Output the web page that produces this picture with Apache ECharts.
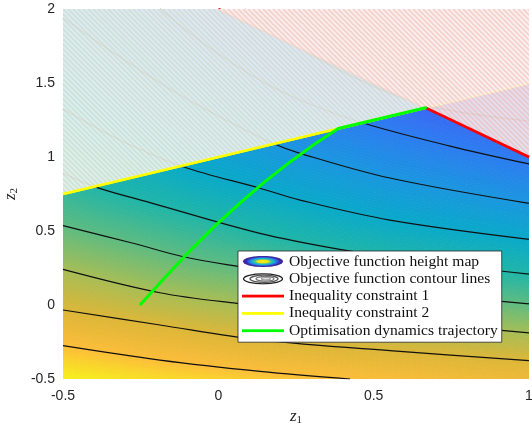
<!DOCTYPE html>
<html>
<head>
<meta charset="utf-8">
<script src="https://cdn.jsdelivr.net/npm/echarts@6/dist/echarts.min.js"></script>
<style>
html,body{margin:0;padding:0;background:#fff;}
#c{width:532px;height:430px;}
</style>
</head>
<body>
<div id="c"></div>
<script>
// ---------- data ----------
const xTicks = [-0.5, 0, 0.5, 1];
const yTicks = [-0.5, 0, 0.5, 1, 1.5, 2];

// objective-function contour lines (z1, z2), from the lowest-left to the upper-right
const contourA = [[-0.5,-0.275],[-0.188,-0.372],[0.134,-0.448],[0.424,-0.5]];
const contourB = [[-0.5,-0.034],[-0.188,-0.135],[0.134,-0.236],[0.585,-0.314],[1.0,-0.376]];
const contourC = [[-0.5,0.241],[-0.188,0.083],[0.059,0.011],[0.52,-0.095],[1.0,-0.189]];
const contourD = [[-0.5,0.536],[-0.274,0.417],[-0.113,0.326],[0.07,0.259],[0.52,0.112],[1.0,0.007]];
const contourE = [[-0.5,0.89],[-0.392,0.795],[-0.22,0.692],[0.134,0.484],[0.401,0.372],[0.649,0.294],[1.0,0.209]];
const contourF = [[-0.5,1.324],[-0.317,1.115],[-0.113,0.934],[0.134,0.789],[0.263,0.709],[0.552,0.574],[1.0,0.444]];
const contourG = [[-0.5,1.939],[-0.317,1.676],[-0.123,1.419],[0.037,1.236],[0.173,1.095],[0.263,1.025],[0.552,0.858],[1.0,0.687]];
const contourH = [[-0.188,2.0],[-0.027,1.736],[0.134,1.52],[0.263,1.385],[0.466,1.23],[0.746,1.074],[1.0,0.953]];
const contourI = [[0.086,2.0],[0.263,1.736],[0.456,1.52],[0.672,1.345],[1.0,1.243]];

// inequality constraints (z1 + z2 <= 2 and z2 <= z1/2 + 1)
const constraint1 = [[0, 2], [0.667, 1.333], [1, 1]];
const constraint2 = [[-0.5, 0.75], [0.667, 1.333], [1, 1.5]];

// optimisation dynamics trajectory
const trajectory = [[-0.25,0.005],[-0.169,0.193],[-0.089,0.371],[-0.009,0.538],[0.072,0.693],
  [0.152,0.837],[0.233,0.970],[0.313,1.092],[0.386,1.193],[0.667,1.333]];

const names = ['Objective function height map','Objective function contour lines',
  'Inequality constraint 1','Inequality constraint 2','Optimisation dynamics trajectory'];

// ---------- styles ----------
const contours = [contourA,contourB,contourC,contourD,contourE,contourF,contourG,contourH,contourI];
// colour at: far-below, corner, A..I, top, far-above
const levelColors = ['#f6f01c','#f6f01c','#fcbd38','#dcb637','#a6bd55','#5dbb80','#1fb5a8',
  '#09a9c9','#1a96df','#2c7df0','#3a66f5','#4050d8','#4050d8'];

const X_MIN = xTicks[0], X_MAX = xTicks[xTicks.length-1];
const Y_MIN = yTicks[0], Y_MAX = yTicks[yTicks.length-1];

function evalCurve(c, x) {
  const n = c.length;
  let i = 0;
  if (x <= c[0][0]) i = 0;
  else if (x >= c[n-1][0]) i = n - 2;
  else { while (i < n - 2 && x > c[i+1][0]) i++; }
  const x0 = c[i][0], y0 = c[i][1], x1 = c[i+1][0], y1 = c[i+1][1];
  return y0 + (y1 - y0) * (x - x0) / (x1 - x0);
}
const hexToRgb = h => [parseInt(h.slice(1,3),16), parseInt(h.slice(3,5),16), parseInt(h.slice(5,7),16)];
const mix = (a, b, t) => 'rgb(' + a.map((v,i) => Math.round(v + (b[i]-v)*t)).join(',') + ')';

function renderHeight(params, api) {
  const cs = params.coordSys;
  const nC = contours.length;
  const bounds = [];
  const first = x => { const a = evalCurve(contours[0], x), b = evalCurve(contours[1], x); return a - 0.9*(b - a); };
  const last = x => { const a = evalCurve(contours[nC-1], x), b = evalCurve(contours[nC-2], x); return a + (a - b); };
  bounds.push(x => first(x) - 5);
  bounds.push(first);
  contours.forEach(c => bounds.push(x => evalCurve(c, x)));
  bounds.push(last);
  bounds.push(x => last(x) + 5);
  const rgb = levelColors.map(hexToRgb);
  const N = 80;
  const xs = [];
  for (let k = 0; k <= N; k++) xs.push(X_MIN - 0.03 + (X_MAX - X_MIN + 0.06) * k / N);
  const children = [];
  for (let b = 0; b < bounds.length - 1; b++) {
    const lo = xs.map(x => bounds[b](x)), hi = xs.map(x => bounds[b+1](x));
    const S = (b === 0 || b === bounds.length - 2) ? 1 : 16;
    for (let s = 0; s < S; s++) {
      const f0 = s / S, f1 = (s + 1) / S;
      const pts = [];
      for (let k = 0; k < xs.length; k++) pts.push(api.coord([xs[k], lo[k] + (hi[k]-lo[k]) * f0]));
      for (let k = xs.length - 1; k >= 0; k--) pts.push(api.coord([xs[k], lo[k] + (hi[k]-lo[k]) * f1]));
      const col = mix(rgb[b], rgb[b+1], (f0 + f1) / 2);
      children.push({type:'polygon', shape:{points:pts}, style:{fill:col, stroke:col, lineWidth:0.8}});
    }
  }
  return {type:'group', children,
    clipPath:{type:'rect', shape:{x:cs.x, y:cs.y, width:cs.width, height:cs.height}}};
}

// hatching of the infeasible regions (area beyond each constraint line up to the top of the axes)
const region2 = constraint2.concat([[X_MAX, Y_MAX], [X_MIN, Y_MAX]]);
const region1 = constraint1.concat([[X_MAX, Y_MAX]]);

function makeHatch(poly, hatch) {
  return function (params, api) {
    const cs = params.coordSys;
    const pts = poly.map(p => api.coord(p));
    const lines = [];
    const step = 5, H = cs.height;
    for (let c = cs.x - H; c < cs.x + cs.width + 2; c += step) {
      lines.push({type:'line', shape:{x1:c, y1:cs.y, x2:c + H, y2:cs.y + H},
        style:{stroke:hatch, lineWidth:2.2, fill:null}});
    }
    return {type:'group', children:lines, clipPath:{type:'polygon', shape:{points:pts}}};
  };
}

// legend icons
const svgUrl = s => 'image://data:image/svg+xml;charset=utf-8,' + encodeURIComponent(s);
const iconHeight = svgUrl("<svg xmlns='http://www.w3.org/2000/svg' width='42' height='12' viewBox='0 0 42 12'>" +
  "<defs><radialGradient id='g' cx='50%' cy='50%' r='50%'>" +
  "<stop offset='0' stop-color='#f9f50e'/><stop offset='0.28' stop-color='#e8df1d'/>" +
  "<stop offset='0.42' stop-color='#3fbf9f'/><stop offset='0.56' stop-color='#12b2cf'/>" +
  "<stop offset='0.7' stop-color='#2f6ce8'/><stop offset='0.84' stop-color='#3b2ba8'/>" +
  "<stop offset='1' stop-color='#3a2796'/></radialGradient></defs>" +
  "<ellipse cx='21' cy='6' rx='20' ry='5.6' fill='url(#g)'/></svg>");
const iconContour = svgUrl("<svg xmlns='http://www.w3.org/2000/svg' width='42' height='12' viewBox='0 0 42 12'>" +
  "<g fill='none' stroke-width='1.3'>" +
  "<ellipse cx='21' cy='6' rx='19.5' ry='5' stroke='#222'/>" +
  "<ellipse cx='22' cy='6' rx='14' ry='3.6' stroke='#555'/>" +
  "<ellipse cx='23' cy='6' rx='9' ry='2.3' stroke='#777'/>" +
  "<ellipse cx='24' cy='6' rx='4.5' ry='1.1' stroke='#999'/></g></svg>");
const lineIcon = col => svgUrl("<svg xmlns='http://www.w3.org/2000/svg' width='42' height='12' viewBox='0 0 42 12'>" +
  "<rect x='0' y='4.6' width='42' height='2.8' fill='" + col + "'/></svg>");

const contourSeries = contours.map(c => ({
  name: names[1], type:'line', data:c, smooth:0.35, symbol:'none', showSymbol:false, silent:true, z:2,
  color:'#111', lineStyle:{color:'#111', width:1.2}
}));

const richName = {
  i:{fontFamily:'Liberation Serif', fontStyle:'italic', fontSize:17, color:'#262626', lineHeight:18},
  s:{fontFamily:'Liberation Serif', fontSize:11, color:'#262626', lineHeight:18, verticalAlign:'bottom'}
};

const chart = echarts.init(document.getElementById('c'));
chart.setOption({
  animation:false,
  grid:{left:63, top:9, right:3, bottom:51, containLabel:false, outerBoundsMode:'none'},
  xAxis:{type:'value', min:X_MIN, max:X_MAX, interval:0.5,
    axisLine:{show:false}, axisTick:{show:false}, splitLine:{show:false},
    axisLabel:{fontFamily:'Liberation Sans', fontSize:14, color:'#262626', margin:10},
    name:'{i|z}{s|1}', nameLocation:'middle', nameGap:25, nameTextStyle:{rich:richName}},
  yAxis:{type:'value', min:Y_MIN, max:Y_MAX, interval:0.5,
    axisLine:{show:false}, axisTick:{show:false}, splitLine:{show:false},
    axisLabel:{fontFamily:'Liberation Sans', fontSize:14, color:'#262626', margin:8},
    name:'{i|z}{s|2}', nameLocation:'middle', nameGap:40, nameTextStyle:{rich:richName}},
  legend:{
    orient:'vertical', left:238, top:251, z:20, selectedMode:false,
    backgroundColor:'#fff', borderColor:'#262626', borderWidth:0.8, borderRadius:0,
    padding:[2,4,3,4], itemGap:0.3, itemWidth:42, itemHeight:12,
    textStyle:{fontFamily:'Liberation Serif', fontSize:15.6, color:'#111', lineHeight:17},
    data:[
      {name:names[0], icon:iconHeight},
      {name:names[1], icon:iconContour},
      {name:names[2], icon:lineIcon('#ff0000')},
      {name:names[3], icon:lineIcon('#ffff00')},
      {name:names[4], icon:lineIcon('#00ff00')}
    ]
  },
  series:[
    {name:names[0], type:'custom', renderItem:renderHeight, data:[[X_MIN, Y_MIN]], silent:true, z:1},
    ...contourSeries,
    {name:names[2], type:'line', data:constraint1, symbol:'none', silent:true, z:3, color:'#ff0000',
      lineStyle:{color:'#ff0000', width:2.5}},
    {name:names[3], type:'line', data:constraint2, symbol:'none', silent:true, z:3, color:'#ffff00',
      lineStyle:{color:'#ffff00', width:2.5}},
    // infeasible region of constraint 2: translucent veil + hatching
    {type:'line', data:constraint2, symbol:'none', silent:true, z:4, lineStyle:{width:0, opacity:0},
      areaStyle:{origin:'end', color:'#fbfbfb', opacity:0.88}},
    {type:'custom', renderItem:makeHatch(region2, 'rgba(175,195,150,0.30)'), data:[[0, 1.8]], silent:true, z:4.2},
    // infeasible region of constraint 1
    {type:'line', data:constraint1, symbol:'none', silent:true, z:4.5, lineStyle:{width:0, opacity:0},
      areaStyle:{origin:'end', color:'#fff6f6', opacity:0.87}},
    {type:'custom', renderItem:makeHatch(region1, 'rgba(236,150,130,0.32)'), data:[[0.8, 1.8]], silent:true, z:4.7},
    {name:names[2], type:'line', data:constraint1.slice(1), symbol:'none', silent:true, z:5, color:'#ff0000',
      lineStyle:{color:'#ff0000', width:2.5}},
    {name:names[3], type:'line', data:constraint2.slice(0,2), symbol:'none', silent:true, z:5, color:'#ffff00',
      lineStyle:{color:'#ffff00', width:2.5}},
    {name:names[4], type:'line', data:trajectory, symbol:'none', silent:true, z:6, color:'#00ff00',
      lineStyle:{color:'#00ff00', width:3, cap:'round', join:'round'}}
  ]
});
</script>
</body>
</html>
